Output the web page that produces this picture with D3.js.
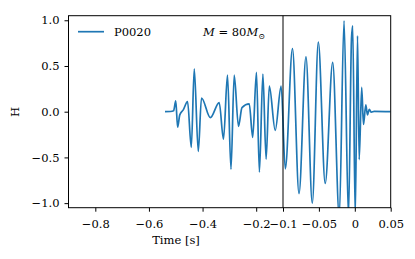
<!DOCTYPE html>
<html><head><meta charset="utf-8">
<script src="https://cdn.jsdelivr.net/npm/d3@7"></script>
<style>
html,body{margin:0;padding:0;background:#fff;}
svg{display:block;}
text{font-family:"DejaVu Serif",serif;}
</style></head>
<body><svg id="c" width="415" height="259"></svg>
<script>
// ---- data ----
const seriesName = "P0020";
const times = [-0.540,-0.520,-0.508,-0.500,-0.493,-0.485,-0.472,-0.456,-0.442,-0.431,-0.416,-0.404,-0.371,-0.338,-0.322,-0.307,-0.294,-0.282,-0.266,-0.253,-0.226,-0.213,-0.199,-0.188,-0.175,-0.163,-0.151,-0.129,-0.107,-0.0968,-0.0868,-0.0777,-0.0680,-0.0592,-0.0508,-0.0412,-0.0308,-0.0216,-0.0150,-0.0088,-0.0046,-0.0029,0.0006,0.0038,0.0061,0.0096,0.0121,0.0153,0.0177,0.0202,0.0230,0.0270,0.0500];
const hValues = [0.000,0.002,0.010,0.120,-0.170,-0.035,0.020,0.110,-0.390,0.470,-0.435,0.150,-0.065,0.100,-0.300,0.400,-0.630,0.400,-0.160,0.045,0.085,-0.280,0.430,-0.660,0.410,-0.520,0.280,-0.205,0.280,-0.625,0.690,-0.895,0.600,-1.000,0.760,-0.785,0.540,-1.150,0.995,-1.150,0.800,0.940,-1.150,0.830,-0.525,0.265,-0.140,0.075,-0.035,0.025,-0.005,0.003,0.000];
const xBreaks = [-0.9,-0.1,0.05];
const xTicks = [-0.8,-0.6,-0.4,-0.2,-0.1,-0.05,0,0.05];
const xTickLabels = ["\u22120.8","\u22120.6","\u22120.4","\u22120.2","\u22120.1","\u22120.05","0","0.05"];
const yTicks = [-1,-0.5,0,0.5,1];
const yTickLabels = ["\u22121.0","\u22120.5","0.0","0.5","1.0"];
const yDomain = [-1.05,1.05];
const markerLine = -0.1;

// ---- layout ----
const L=68.5, R=390.7, T=15.7, B=207.7, xMid=283;
const svg=d3.select("#c");
const x=d3.scaleLinear().domain(xBreaks).range([L,xMid,R]);
const y=d3.scaleLinear().domain(yDomain).range([B,T]);
const fs=11.5;

svg.append("defs").append("clipPath").attr("id","clip")
  .append("rect").attr("x",L).attr("y",T).attr("width",R-L).attr("height",B-T);

const data=times.map((t,i)=>({t,h:hValues[i]}));
svg.append("path").datum(data)
  .attr("clip-path","url(#clip)")
  .attr("fill","none").attr("stroke","#1f77b4").attr("stroke-width",1.7)
  .attr("stroke-linejoin","round")
  .attr("d",d3.line().x(d=>x(d.t)).y(d=>y(d.h)).curve(d3.curveMonotoneX));

// vertical marker
svg.append("line").attr("x1",x(markerLine)).attr("x2",x(markerLine))
  .attr("y1",T).attr("y2",B).attr("stroke","#000").attr("stroke-width",1);

// x axis
const gx=svg.append("g").attr("transform",`translate(0,${B})`)
  .call(d3.axisBottom(x).tickValues(xTicks).tickSize(4).tickPadding(5)
    .tickFormat((d,i)=>xTickLabels[i]));
gx.select(".domain").remove();
gx.selectAll("line").attr("stroke","#000").attr("stroke-width",1);
gx.selectAll("text").attr("font-size",fs).attr("font-family","DejaVu Serif")
  .attr("fill","#000").attr("y",20.5).attr("dy",0);

// y axis
const gy=svg.append("g").attr("transform",`translate(${L},0)`)
  .call(d3.axisLeft(y).tickValues(yTicks).tickSize(4).tickPadding(5)
    .tickFormat((d,i)=>yTickLabels[i]));
gy.select(".domain").remove();
gy.selectAll("line").attr("stroke","#000").attr("stroke-width",1);
gy.selectAll("text").attr("font-size",fs).attr("font-family","DejaVu Serif").attr("fill","#000");

// frame
svg.append("rect").attr("x",L).attr("y",T).attr("width",R-L).attr("height",B-T)
  .attr("fill","none").attr("stroke","#000").attr("stroke-width",1);

// labels
svg.append("text").attr("x",176).attr("y",244).attr("text-anchor","middle")
  .attr("font-size",fs).text("Time [s]");
svg.append("text").attr("transform","translate(19,112) rotate(-90)")
  .attr("text-anchor","middle").attr("font-size",fs).text("H");

// legend
svg.append("line").attr("x1",78).attr("x2",104).attr("y1",31.7).attr("y2",31.7)
  .attr("stroke","#1f77b4").attr("stroke-width",1.7);
svg.append("text").attr("x",114).attr("y",36).attr("font-size",fs).text(seriesName);

// annotation M = 80 M_sun
const ann=svg.append("text").attr("x",203).attr("y",36)
  .attr("font-family","DejaVu Sans").attr("font-size",fs);
ann.append("tspan").attr("font-style","italic").text("M");
ann.append("tspan").text(" = 80");
ann.append("tspan").attr("font-style","italic").text("M");
ann.append("tspan").attr("font-size",fs*0.7).attr("dy",2.5).text("\u2299");
</script></body></html>
